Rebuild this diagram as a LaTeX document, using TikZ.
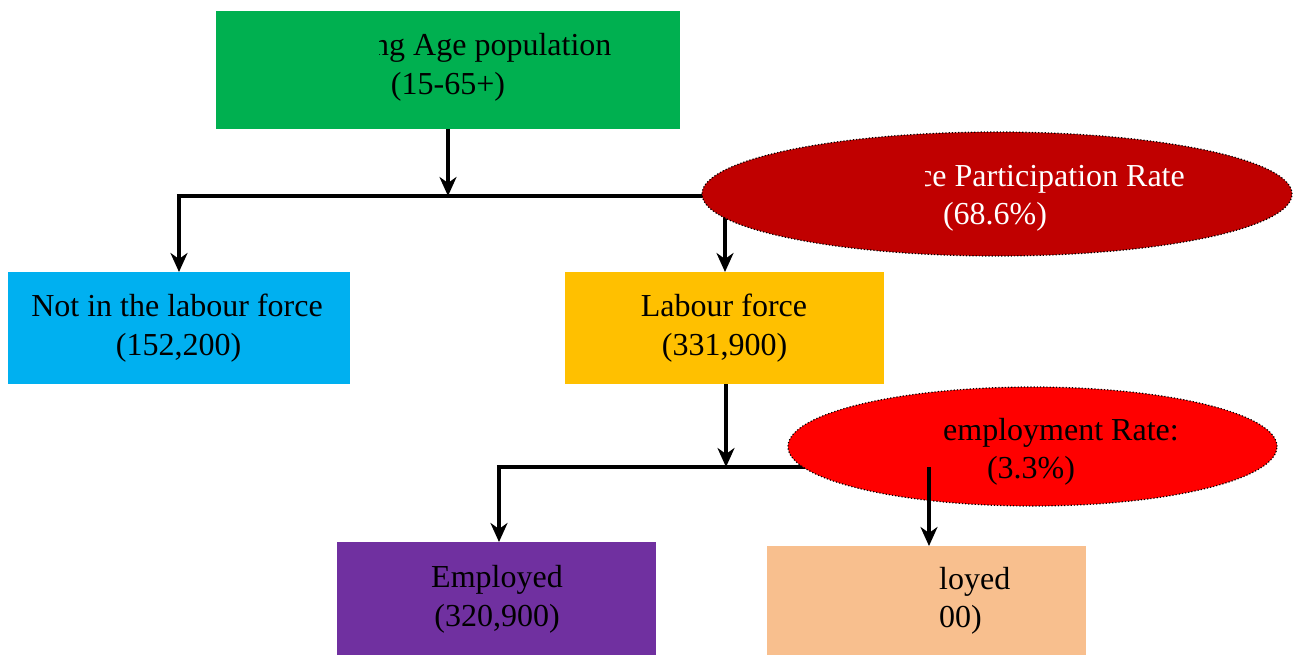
\documentclass[tikz,border=0pt]{standalone}
\usepackage{fontspec}
\setmainfont{Liberation Serif}
\usetikzlibrary{arrows.meta,shapes.geometric}
\definecolor{cgreen}{HTML}{00B050}
\definecolor{ccyan}{HTML}{00B0F0}
\definecolor{cyellow}{HTML}{FFC000}
\definecolor{cdarkred}{HTML}{C00000}
\definecolor{cred}{HTML}{FF0000}
\definecolor{cpurple}{HTML}{7030A0}
\definecolor{cpeach}{HTML}{F8BF8E}
\begin{document}
\begin{tikzpicture}[x=1pt,y=-1pt,
  box/.style={draw=none,inner sep=0pt,outer sep=0pt},
  lbl/.style={inner sep=0pt,anchor=base,font=\fontsize{32}{39}\selectfont},
  lblw/.style={lbl,anchor=base west},
  bus/.style={line width=4.5pt},
  conn/.style={line width=4.5pt,-{Stealth[length=19pt,width=17pt,inset=6pt]}},
  bubble/.style={ellipse,draw=black,dotted,line width=1.2pt,inner sep=0pt}]
\useasboundingbox (0,0) rectangle (1298,655);
% boxes
\node[box,fill=cgreen,minimum width=464pt,minimum height=118pt] (wap) at (448,70) {};
\node[box,fill=ccyan,minimum width=342pt,minimum height=112pt] (nilf) at (179,328) {};
\node[box,fill=cyellow,minimum width=319pt,minimum height=112pt] (lf) at (724.5,328) {};
\node[box,fill=cpurple,minimum width=319pt,minimum height=113pt] (emp) at (496.5,598.5) {};
\node[box,fill=cpeach,minimum width=319pt,minimum height=109pt] (unemp) at (926.5,600.5) {};
% bus coordinates
\coordinate (b1) at (448,196);
\coordinate (b1l) at (179,196);
\coordinate (b1r) at (725,196);
\coordinate (b2) at (726,467);
\coordinate (b2l) at (499,467);
\coordinate (b2r) at (929,467);
% connectors
\draw[conn] (wap.south -| b1) -- (b1);
\draw[bus] ([xshift=-2.25pt]b1l) -- ([xshift=2.25pt]b1r);
\draw[conn] ([yshift=-2.25pt]b1l) -- (b1l |- nilf.north);
\draw[conn] ([yshift=-2.25pt]b1r) -- (b1r |- lf.north);
\draw[conn] (lf.south -| b2) -- (b2);
\draw[bus] ([xshift=-2.25pt]b2l) -- (b2r);
\draw[conn] ([yshift=-2.25pt]b2l) -- (b2l |- emp.north);
% ellipses
\node[bubble,fill=cdarkred,minimum width=590pt,minimum height=124pt] (lfpr) at (997,194) {};
\node[bubble,fill=cred,minimum width=489pt,minimum height=119pt] (ur) at (1032.5,446.5) {};
\draw[conn] (b2r) -- (b2r |- unemp.north);
% texts
\begin{scope}
\clip (379,0) rectangle (700,130);
\node[lblw] (t1) at (373,56) {ng Age population};
\end{scope}
\node[lbl] (t2) at (448,95) {(15-65+)};
\node[lbl] (t3) at (177,316) {Not in the labour force};
\node[lbl] (t4) at (178.5,355) {(152,200)};
\node[lbl] (t5) at (724,316) {Labour force};
\node[lbl] (t6) at (724.5,355) {(331,900)};
\begin{scope}
\clip (925,140) rectangle (1290,250);
\node[lblw,text=white] (t7) at (918,187) {ce Participation Rate};
\end{scope}
\node[lbl,text=white] (t8) at (995,225) {(68.6\%)};
\node[lblw] (t9) at (943,440) {employment Rate:};
\node[lbl] (t10) at (1031,478) {(3.3\%)};
\node[lbl] (t11) at (497,587) {Employed};
\node[lbl] (t12) at (497,626) {(320,900)};
\node[lblw] (t13) at (939,589) {loyed};
\node[lblw] (t14) at (939,627) {00)};
\end{tikzpicture}
\end{document}
